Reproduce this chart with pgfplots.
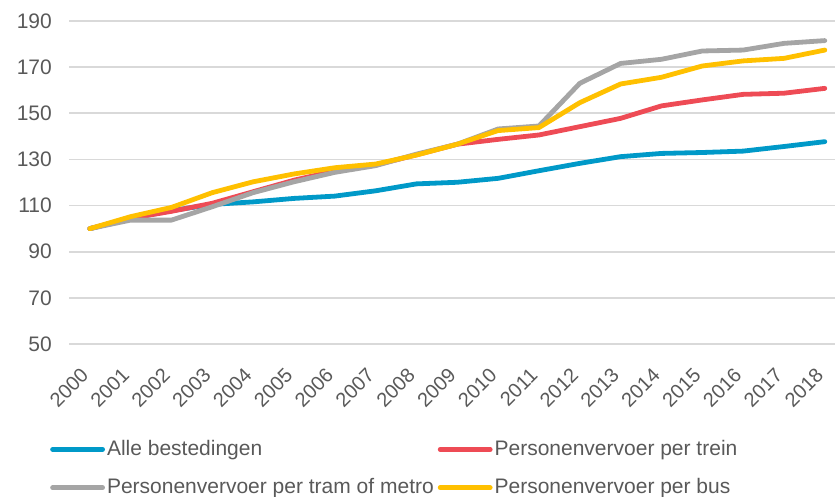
\documentclass[border=0pt]{standalone}
\usepackage{pgfplots}
\pgfplotsset{compat=1.18}
\usepackage{fontspec}
\setmainfont{Liberation Sans}
\definecolor{cblue}{HTML}{0099C8}
\definecolor{cred}{HTML}{EE4B55}
\definecolor{cgray}{HTML}{A5A5A5}
\definecolor{cyellow}{HTML}{FFC000}
\definecolor{ctext}{HTML}{595959}
\definecolor{cgrid}{HTML}{D9D9D9}
\begin{document}
\fontsize{21pt}{25pt}\selectfont
\begin{tikzpicture}[x=1pt,y=1pt]
\useasboundingbox (0,0) rectangle (835,497);
\begin{axis}[
  at={(69pt,153pt)}, anchor=south west,
  scale only axis, width=766pt, height=323pt,
  xmin=1999.49, xmax=2018.25, ymin=50, ymax=190,
  axis line style={draw=none},
  major tick length=0pt,
  ytick={50,70,...,190},
  xtick={2000,...,2018},
  ymajorgrids, 
  major grid style={cgrid, line width=1.6pt},
  /pgf/number format/assume math mode=true,
  /pgf/number format/1000 sep={},
  tick label style={font=\fontsize{21pt}{25pt}\selectfont, text=ctext},
  yticklabel style={anchor=east, xshift=-10pt},
  xticklabel style={font=\fontsize{20pt}{24pt}\selectfont, xshift=0pt, yshift=-23pt, rotate=45, anchor=east},
  every axis plot/.append style={line width=4.8pt, line join=round, line cap=round},
  legend columns=2,
  legend cell align=left,
  legend style={at={(-19pt,-94pt)}, anchor=north west, draw=none, fill=none,
     font=\fontsize{21pt}{25pt}\selectfont, text=ctext,
     inner sep=0pt, row sep=16pt,
     /tikz/every even column/.append style={column sep=2pt},
     nodes={inner sep=2pt}},
  legend image code/.code={\draw[#1] (0pt,0pt) -- (50pt,0pt);},
]
\addplot[cblue] coordinates {(2000,100) (2001,104.4) (2002,107.8) (2003,110.5) (2004,111.6) (2005,113.1) (2006,114.1) (2007,116.4) (2008,119.4) (2009,120.1) (2010,121.8) (2011,125.1) (2012,128.3) (2013,131.2) (2014,132.6) (2015,133.0) (2016,133.6) (2017,135.6) (2018,137.7)};
\addlegendentry{Alle bestedingen}
\addplot[cred] coordinates {(2000,100) (2001,104.5) (2002,107.5) (2003,111) (2004,116) (2005,121) (2006,125) (2007,127.6) (2008,132) (2009,136.6) (2010,138.7) (2011,140.6) (2012,144.2) (2013,147.8) (2014,153.2) (2015,155.8) (2016,158.2) (2017,158.7) (2018,160.8)};
\addlegendentry{Personenvervoer per trein}
\addplot[cgray] coordinates {(2000,100) (2001,103.7) (2002,103.7) (2003,109.5) (2004,115.6) (2005,120.3) (2006,124.4) (2007,127.3) (2008,132.3) (2009,136.6) (2010,143.2) (2011,144.5) (2012,163) (2013,171.6) (2014,173.4) (2015,177) (2016,177.4) (2017,180.3) (2018,181.5)};
\addlegendentry{Personenvervoer per tram of metro}
\addplot[cyellow] coordinates {(2000,100) (2001,105.2) (2002,109.2) (2003,115.6) (2004,120.3) (2005,123.7) (2006,126.4) (2007,128) (2008,131.9) (2009,136.6) (2010,142.5) (2011,143.8) (2012,154.6) (2013,162.7) (2014,165.6) (2015,170.5) (2016,172.7) (2017,173.8) (2018,177.4)};
\addlegendentry{Personenvervoer per bus}
\end{axis}
\end{tikzpicture}
\end{document}
